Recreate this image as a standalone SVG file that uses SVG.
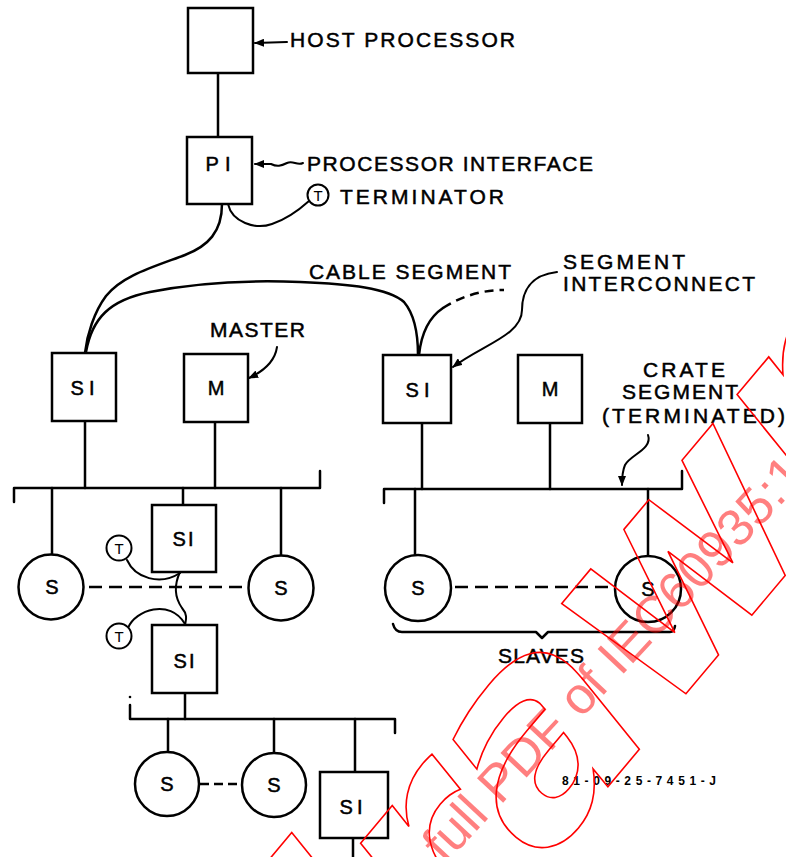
<svg xmlns="http://www.w3.org/2000/svg" width="786" height="857" viewBox="0 0 786 857">
<style>
.bx{fill:#fff;stroke:#000;stroke-width:2.5}
.ln{fill:none;stroke:#000;stroke-width:2.5;stroke-linecap:round;stroke-linejoin:round}
.th{fill:none;stroke:#000;stroke-width:2;stroke-linecap:round}
.dash{fill:none;stroke:#000;stroke-width:2.5;stroke-dasharray:13 7}
.lb{font-family:"Liberation Sans",Arial,sans-serif;font-size:21px;fill:#000;stroke:#000;stroke-width:0.5}
.nl{font-family:"Liberation Sans",Arial,sans-serif;font-size:20px;fill:#000;stroke:#000;stroke-width:0.5;text-anchor:middle}
.tl{font-family:"Liberation Sans",Arial,sans-serif;font-size:15px;fill:#000;text-anchor:middle}
.wm{font-family:"DejaVu Sans",sans-serif;font-weight:bold;font-style:oblique;fill:none;stroke:#f00;stroke-width:1.6}
.wt{font-family:"Liberation Sans",Arial,sans-serif;font-size:52px;fill:#f00;fill-opacity:0.5}
</style>
<defs>
<marker id="ah" markerWidth="10" markerHeight="8" refX="9" refY="4" orient="auto" markerUnits="userSpaceOnUse">
<path d="M0,0 L10,4 L0,8 Z" fill="#000"/>
</marker>
</defs>

<g id="connectors">
<line class="ln" x1="218" y1="73" x2="218" y2="137"/>
<path class="th" d="M228,204 C232,222 255,230 272,224 C287,219 299,210 309,201"/>
<path class="ln" d="M222,204 C222,232 208,246 185,255 C150,268 122,276 106,296 C94,312 87,335 85,353"/>
<path class="ln" d="M86,352 C92,318 110,300 150,292 C195,283 250,280 300,282 C350,284 388,288 404,302 C415,315 418,335 418,355"/>
<path class="ln" d="M419,355 C421,336 428,318 443,308"/>
<path class="dash" d="M443,308 C462,296 482,290 504,290" style="stroke-dasharray:9 6"/>
<path class="th" d="M557,272 C530,275 522,292 522,310 C522,335 482,345 453,367" marker-end="url(#ah)"/>
<path class="th" d="M277,347 C275,361 264,371 249,378" marker-end="url(#ah)"/>
<path class="th" d="M648,435 C653,449 630,455 625,465 C622,472 622,477 622,485" marker-end="url(#ah)"/>
<path class="th" d="M287,42 L255,43" marker-end="url(#ah)"/>
<path class="th" d="M303,163 C297,166 293,160 287,163 C281,166 277,167 271,164 L255,164" marker-end="url(#ah)"/>
<!-- left crate segment -->
<line class="ln" x1="85" y1="421" x2="85" y2="488"/>
<line class="ln" x1="215" y1="422" x2="215" y2="488"/>
<path class="ln" d="M14,502 V488 H320 V471"/>
<line class="ln" x1="52" y1="488" x2="52" y2="555"/>
<line class="ln" x1="183" y1="488" x2="183" y2="505"/>
<line class="ln" x1="281" y1="488" x2="281" y2="556"/>
<line class="dash" x1="89" y1="587" x2="243" y2="587"/>
<path class="th" d="M127,560 C135,578 160,586 180,573"/>
<path class="th" d="M180,572 C174,585 175,598 182,608 C188,615 186,620 185,625"/>
<path class="th" d="M128,628 C135,610 170,598 185,624"/>
<!-- right crate segment -->
<line class="ln" x1="422" y1="423" x2="422" y2="489"/>
<line class="ln" x1="550" y1="423" x2="550" y2="489"/>
<path class="ln" d="M384,503 V489 H682 V471"/>
<line class="ln" x1="415" y1="489" x2="415" y2="555"/>
<line class="ln" x1="648" y1="489" x2="648" y2="556"/>
<line class="dash" x1="455" y1="587" x2="612" y2="587"/>
<path class="ln" d="M393,624 Q395,632 402,632 H536 L542,638 L548,632 H670 Q674,632 675,626"/>
<!-- lower crate segment -->
<line class="ln" x1="185" y1="693" x2="185" y2="719"/>
<path class="ln" d="M130,705 V719 H395 V733"/>
<circle cx="130" cy="697" r="1.3" fill="#000"/>
<line class="ln" x1="168" y1="719" x2="168" y2="752"/>
<line class="ln" x1="274" y1="719" x2="274" y2="753"/>
<line class="ln" x1="355" y1="719" x2="355" y2="772"/>
<line class="dash" x1="200" y1="784" x2="242" y2="784" style="stroke-dasharray:9 5"/>
<line class="ln" x1="353" y1="838" x2="353" y2="857"/>
</g>

<g id="host"><rect class="bx" x="188" y="8" width="65" height="65"/></g>
<g id="pi"><rect class="bx" x="187" y="137" width="65" height="67"/><text class="nl" x="221" y="171" letter-spacing="6">PI</text></g>
<g id="t1"><circle class="bx" cx="318" cy="195" r="10.5" style="stroke-width:2"/><text class="tl" x="318" y="200.5">T</text></g>
<g id="si-left"><rect class="bx" x="52" y="353" width="64" height="68"/><text class="nl" x="85" y="395" letter-spacing="5">SI</text></g>
<g id="m-left"><rect class="bx" x="184" y="354" width="64" height="68"/><text class="nl" x="216" y="395">M</text></g>
<g id="si-right"><rect class="bx" x="383" y="355" width="68" height="68"/><text class="nl" x="420" y="397" letter-spacing="5">SI</text></g>
<g id="m-right"><rect class="bx" x="518" y="355" width="64" height="68"/><text class="nl" x="550" y="396">M</text></g>
<g id="si-mid"><rect class="bx" x="152" y="505" width="64" height="67"/><text class="nl" x="184" y="546" letter-spacing="2">SI</text></g>
<g id="t2"><circle class="bx" cx="119" cy="548" r="12.5" style="stroke-width:2"/><text class="tl" x="119" y="554">T</text></g>
<g id="t3"><circle class="bx" cx="119" cy="636" r="12.5" style="stroke-width:2"/><text class="tl" x="119" y="642">T</text></g>
<g id="si-lower"><rect class="bx" x="152" y="625" width="65" height="68"/><text class="nl" x="185" y="668" letter-spacing="2">SI</text></g>
<g id="s1"><circle class="bx" cx="51" cy="587" r="32.5"/><text class="nl" x="52" y="594">S</text></g>
<g id="s2"><circle class="bx" cx="281" cy="588" r="32.5"/><text class="nl" x="281" y="595">S</text></g>
<g id="s3"><circle class="bx" cx="418" cy="588" r="33"/><text class="nl" x="418" y="595">S</text></g>
<g id="s4"><circle class="bx" cx="648" cy="589" r="33"/><text class="nl" x="648" y="596">S</text></g>
<g id="s5"><circle class="bx" cx="167" cy="784" r="32"/><text class="nl" x="167" y="791">S</text></g>
<g id="s6"><circle class="bx" cx="274" cy="785" r="32"/><text class="nl" x="274" y="792">S</text></g>
<g id="si-bottom"><rect class="bx" x="320" y="772" width="68" height="66"/><text class="nl" x="353" y="814" letter-spacing="4">SI</text></g>

<g id="labels">
<text class="lb" x="290" y="47" textLength="225" lengthAdjust="spacing">HOST PROCESSOR</text>
<text class="lb" x="307" y="171" textLength="286" lengthAdjust="spacing">PROCESSOR INTERFACE</text>
<text class="lb" x="340" y="204" textLength="164" lengthAdjust="spacing">TERMINATOR</text>
<text class="lb" x="309" y="279" textLength="202" lengthAdjust="spacing">CABLE SEGMENT</text>
<text class="lb" x="563" y="269" textLength="122" lengthAdjust="spacing">SEGMENT</text>
<text class="lb" x="563" y="291" textLength="192" lengthAdjust="spacing">INTERCONNECT</text>
<text class="lb" x="210" y="337" textLength="95" lengthAdjust="spacing">MASTER</text>
<text class="lb" x="643" y="377" textLength="82" lengthAdjust="spacing">CRATE</text>
<text class="lb" x="622" y="399" textLength="116" lengthAdjust="spacing">SEGMENT</text>
<text class="lb" x="602" y="423" textLength="183" lengthAdjust="spacing">(TERMINATED)</text>
<text class="lb" x="498" y="663" textLength="86" lengthAdjust="spacing">SLAVES</text>
<text x="562" y="785" textLength="154" lengthAdjust="spacing" style="font-family:'Liberation Sans',Arial,sans-serif;font-size:12px;font-weight:bold;fill:#000">81-09-25-7451-J</text>
</g>

<g id="watermark">
<text class="wm" x="0" y="0" font-size="280" transform="translate(-150,1690) rotate(-50)">Withdrawn</text>
<text class="wt" x="0" y="0" transform="translate(445,865) rotate(-47)">full PDF of IEC60935:1</text>
</g>
</svg>
